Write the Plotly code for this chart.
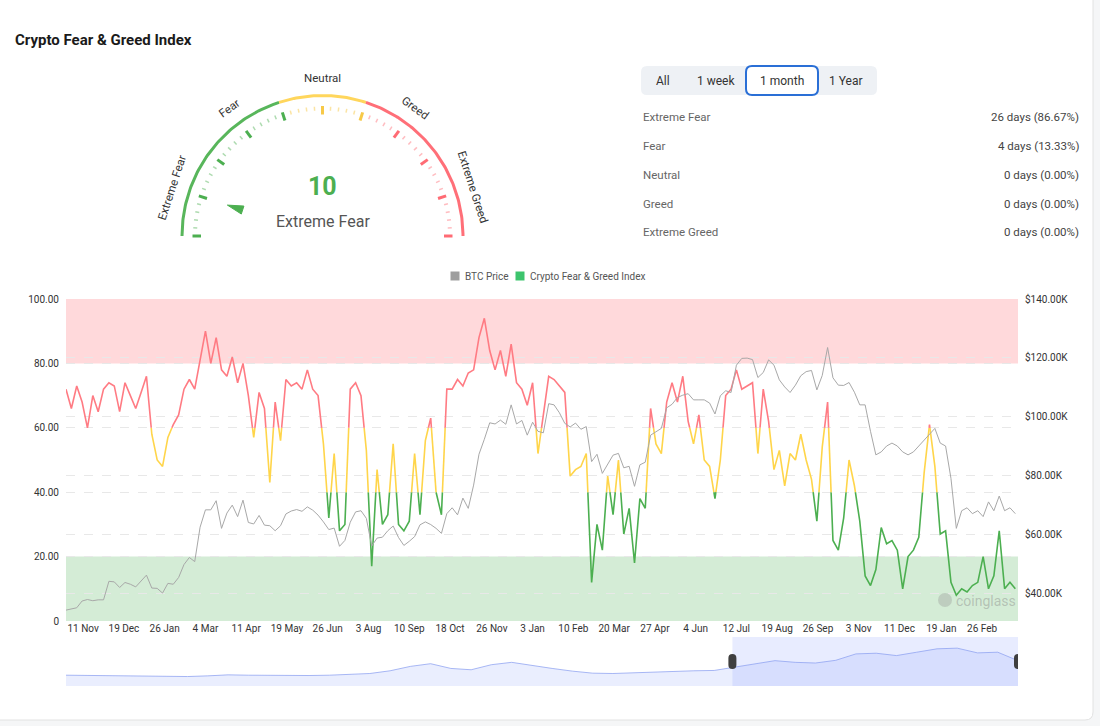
import math
import datetime as dt
import plotly.graph_objects as go

# ---------------- data ----------------
START_DATE = dt.datetime(2023, 10, 26)
STEP_DAYS = 5

# Crypto Fear & Greed index, one reading every 5 days from START_DATE
fng_index = [
    72, 66, 73, 68, 60, 70, 65, 72, 74, 73, 65, 74, 70, 66, 71, 76, 58, 50, 48, 57,
    61, 64, 72, 75, 72, 81, 90, 80, 88, 78,
    76, 82, 74, 80, 70, 57, 71, 66, 43, 68, 56, 75, 73, 74, 72, 78, 72, 70, 55, 32,
    52, 28, 30, 72, 74, 70, 53, 17, 47,
    30, 33, 55, 30, 28, 31, 52, 33, 56, 63, 40, 33, 72, 72, 75, 73, 77, 78, 88, 94,
    84, 78, 84, 76, 86, 74, 72, 67, 74,
    52, 64, 76, 75, 73, 71, 45, 47, 48, 52, 12, 30, 22, 45, 33, 50, 27, 35, 18, 38,
    35, 66, 55, 52, 68, 74, 68, 76, 62, 55,
    64, 50, 48, 38, 50, 70, 72, 78, 72, 73, 74, 52, 72, 62, 47, 53, 42, 52, 50, 58,
    50, 44, 31, 54, 68, 25, 22, 32, 50, 42,
    31, 14, 11, 16, 29, 24, 25, 22, 10, 20, 22, 26, 46, 61, 48, 27, 28, 12, 8, 10,
    9, 11, 12, 20, 10, 14, 28, 10, 12, 10,
]

# BTC price (thousand USD), same dates
btc_price_k = [
    34.2, 34.6, 35.0, 37.3, 37.8, 37.4, 37.7, 37.7, 44.0, 43.8, 41.9, 43.6, 43.0, 42.1, 44.2,
    46.1, 41.7, 41.6, 40.0, 43.3, 43.0, 45.3, 49.7, 52.1, 50.7, 62.4, 68.3, 68.3, 71.4, 62.0,
    67.2, 69.9, 66.0, 71.6, 64.0, 63.5, 66.4, 63.1, 62.9, 61.2, 62.9, 66.9, 67.9, 68.4, 67.8,
    69.3, 68.2, 66.5, 64.2, 61.6, 62.1, 55.9, 57.9, 64.1, 67.6, 68.0, 65.4, 56.0, 58.7,
    59.0, 61.2, 62.8, 58.9, 56.2, 57.6, 59.2, 63.2, 64.2, 63.3, 62.0, 60.3, 67.0, 69.0, 66.6,
    72.3, 68.8, 76.7, 87.2, 92.3, 97.9, 97.5, 98.8, 97.4, 104.0, 97.5, 98.7, 93.7, 98.1,
    95.0, 94.5, 104.4, 104.0, 101.3, 97.7, 96.5, 97.8, 95.7, 96.6, 84.7, 87.2, 80.7, 84.0, 86.9,
    87.5, 82.6, 83.1, 76.3, 83.6, 84.5, 93.7, 95.0, 96.0, 103.0, 104.2, 106.5, 107.3, 107.8, 105.7,
    105.7, 105.7, 104.6, 100.9, 107.1, 108.8, 108.2, 117.5, 119.8, 119.9, 119.4, 113.3, 115.0, 119.3, 117.5,
    112.5, 110.1, 108.2, 110.7, 113.9, 115.3, 115.7, 109.1, 114.0, 123.5, 113.2, 110.7, 110.6, 111.6, 108.3,
    104.0, 104.0, 95.0, 87.0, 88.0, 90.0, 91.0, 90.0, 88.0, 87.0, 88.0, 90.0, 92.0, 94.0, 96.0,
    91.0, 90.0, 79.0, 62.0, 68.0, 69.0, 67.0, 68.0, 66.0, 71.0, 68.0, 73.0, 68.0, 69.0, 67.0,
]

tick_dates = [
    "2023-11-11", "2023-12-19", "2024-01-26", "2024-03-04", "2024-04-11", "2024-05-19",
    "2024-06-26", "2024-08-03", "2024-09-10", "2024-10-18", "2024-11-26", "2025-01-03",
    "2025-02-10", "2025-03-20", "2025-04-27", "2025-06-04", "2025-07-12", "2025-08-19",
    "2025-09-26", "2025-11-03", "2025-12-11", "2026-01-19", "2026-02-26",
]
x_range_dates = ["2023-10-26", "2026-03-31 12:00"]

left_ticks = [0, 20, 40, 60, 80, 100]
right_ticks_k = [40, 60, 80, 100, 120, 140]
price_range_k = [30.5, 140]

# navigator (data zoom) shadow, evenly spaced
nav_shadow = [32, 31, 30, 30, 28, 27, 28, 30, 33, 32, 31, 30, 31, 32, 34, 37, 45, 58, 66, 52,
              48, 63, 70, 60, 52, 44, 38, 37, 39, 42, 45, 45, 46, 55, 65, 75, 70, 68, 76, 95,
              97, 90, 100, 110, 112, 98, 100, 75]
nav_window = [0.70, 1.0]

gauge_value = 10
gauge_label = "Extreme Fear"
gauge_zone_labels = ["Extreme Fear", "Fear", "Neutral", "Greed", "Extreme Greed"]

stat_labels = ["Extreme Fear", "Fear", "Neutral", "Greed", "Extreme Greed"]
stat_days = [26, 4, 0, 0, 0]

range_buttons = ["All", "1 week", "1 month", "1 Year"]
selected_range = "1 month"

# ---------------- styling ----------------
FONT = "Roboto, 'Noto Sans', sans-serif"
W, H = 1100, 726
RED, YEL, GRN = "#ff7b83", "#ffd54a", "#4caf50"
ZONE_COL = {"red": RED, "yellow": YEL, "green": GRN}

dates = [START_DATE + dt.timedelta(days=STEP_DAYS * i) for i in range(len(fng_index))]


def zone_of(v):
    return "green" if v < 40 else ("yellow" if v < 60 else "red")


def split_zones(vals):
    out = {k: ([], []) for k in ZONE_COL}
    last = {k: None for k in ZONE_COL}
    for i in range(len(vals) - 1):
        d0, d1 = i * STEP_DAYS, (i + 1) * STEP_DAYS
        v0, v1 = vals[i], vals[i + 1]
        pts = [(d0, v0)]
        bounds = [40, 60] if v1 >= v0 else [60, 40]
        for b in bounds:
            if (v0 - b) * (v1 - b) < 0:
                t = (b - v0) / (v1 - v0)
                pts.append((d0 + t * (d1 - d0), b))
        pts.append((d1, v1))
        for a, b in zip(pts[:-1], pts[1:]):
            z = zone_of((a[1] + b[1]) / 2)
            xs, ys = out[z]
            if last[z] != a:
                if xs:
                    xs.append(None)
                    ys.append(None)
                xs.append(START_DATE + dt.timedelta(days=a[0]))
                ys.append(a[1])
            xs.append(START_DATE + dt.timedelta(days=b[0]))
            ys.append(b[1])
            last[z] = b
    return out


fig = go.Figure()

# BTC price line
fig.add_trace(go.Scatter(
    x=dates, y=[p * 1000 for p in btc_price_k], yaxis="y2", mode="lines",
    line=dict(color="#a8a8a8", width=1), name="BTC Price", showlegend=False,
    hoverinfo="skip"))

# Fear & Greed line, coloured by zone
segs = split_zones(fng_index)
for z in ["green", "yellow", "red"]:
    xs, ys = segs[z]
    fig.add_trace(go.Scatter(
        x=xs, y=ys, mode="lines", line=dict(color=ZONE_COL[z], width=1.6),
        showlegend=False, hoverinfo="skip", connectgaps=False))

# navigator
n = len(nav_shadow)
fig.add_trace(go.Scatter(
    x=[i / (n - 1) for i in range(n)], y=nav_shadow, xaxis="x2", yaxis="y3",
    mode="lines", fill="tozeroy", fillcolor="rgba(150,170,250,0.20)",
    line=dict(color="rgba(140,160,240,0.75)", width=1), showlegend=False, hoverinfo="skip"))

# ---------------- gauge (pixel-space overlay axes x3 / y4) ----------------
CX, CY, R = 322.5, 236.0, 140.5


def ang(v):
    return math.pi * (1 - v / 100.0)


def P(r, th):
    return CX + r * math.cos(th), CY - r * math.sin(th)


arc_parts = [(0, 40, "#58b65b"), (40, 60, "#ffd65c"), (60, 100, "#ff6f78")]
for a, b, col in arc_parts:
    steps = int((b - a) * 2) + 1
    pts = [P(R, ang(a + (b - a) * k / (steps - 1))) for k in range(steps)]
    fig.add_trace(go.Scatter(
        x=[p[0] for p in pts], y=[p[1] for p in pts], xaxis="x3", yaxis="y4",
        mode="lines", line=dict(color=col, width=3), showlegend=False, hoverinfo="skip"))

tick_groups = {}
for v in range(0, 101, 2):
    major = v % 10 == 0
    z = "green" if v <= 40 else ("yellow" if v <= 60 else "red")
    r0, r1 = (121.5, 130.0) if major else (125.5, 129.5)
    th = ang(v)
    p0, p1 = P(r0, th), P(r1, th)
    xs, ys = tick_groups.setdefault((z, major), ([], []))
    xs += [p0[0], p1[0], None]
    ys += [p0[1], p1[1], None]
tick_cols = {
    ("green", True): "#4caf50", ("green", False): "rgba(76,175,80,0.45)",
    ("yellow", True): "#f7c948", ("yellow", False): "rgba(247,201,72,0.5)",
    ("red", True): "#ff6b74", ("red", False): "rgba(255,107,116,0.45)",
}
for key, (xs, ys) in tick_groups.items():
    fig.add_trace(go.Scatter(
        x=xs, y=ys, xaxis="x3", yaxis="y4", mode="lines",
        line=dict(color=tick_cols[key], width=3 if key[1] else 1.5),
        showlegend=False, hoverinfo="skip"))

# pointer
th = ang(gauge_value)
tip = P(100, th)
base = P(84, th)
perp = (math.sin(th), math.cos(th))
tri = [tip, (base[0] + 4.2 * perp[0], base[1] + 4.2 * perp[1]),
       (base[0] - 4.2 * perp[0], base[1] - 4.2 * perp[1]), tip]
ptr_col = GRN if gauge_value < 40 else (YEL if gauge_value < 60 else RED)
fig.add_trace(go.Scatter(
    x=[p[0] for p in tri], y=[p[1] for p in tri], xaxis="x3", yaxis="y4",
    mode="lines", fill="toself", fillcolor=ptr_col, line=dict(color=ptr_col, width=1),
    showlegend=False, hoverinfo="skip"))

# legend squares (manual legend)
fig.add_trace(go.Scatter(
    x=[455, 520], y=[276, 276], xaxis="x3", yaxis="y4", mode="markers",
    marker=dict(symbol="square", size=9, color=["#9e9e9e", "#3dc46d"]),
    showlegend=False, hoverinfo="skip"))

# watermark logo blob
fig.add_trace(go.Scatter(
    x=[945], y=[600], xaxis="x3", yaxis="y4", mode="markers",
    marker=dict(symbol="circle", size=14, color="rgba(150,150,150,0.35)"),
    showlegend=False, hoverinfo="skip"))

# ---------------- annotations ----------------
ann = []


def A(text, x, y, size, color, xanchor="center", angle=0, bold=False):
    ann.append(dict(
        text=f"<b>{text}</b>" if bold else text, x=x, y=y, xref="x3", yref="y4",
        showarrow=False, xanchor=xanchor, yanchor="middle", textangle=angle,
        font=dict(size=size, color=color, family=FONT)))


A("Crypto Fear & Greed Index", 13, 40, 15, "#1a1a1a", xanchor="left", bold=True)

for i, lab in enumerate(gauge_zone_labels):
    v = 10 + 20 * i
    t = ang(v)
    p = P(158, t)
    A(lab, p[0], p[1], 11.5, "#333333", angle=90 - math.degrees(t))

A(str(gauge_value), CX, 186, 25, ptr_col, bold=True)
A(gauge_label, CX, 221, 16, "#555555")

btn_x = [663, 716, 782, 846]
for lab, bx in zip(range_buttons, btn_x):
    A(lab, bx, 81, 12, "#333333")

total_days = sum(stat_days)
row_y = [117, 146, 175, 204, 232]
for lab, d, ry in zip(stat_labels, stat_days, row_y):
    A(lab, 641, ry, 11.5, "#666666", xanchor="left")
    A(f"{d} days ({d / total_days * 100:.2f}%)", 1081, ry, 11.5, "#444444", xanchor="right")

A("BTC Price", 463, 276, 10, "#555555", xanchor="left")
A("Crypto Fear & Greed Index", 528, 276, 10, "#555555", xanchor="left")
A("coinglass", 954, 601, 14, "rgba(140,140,140,0.45)", xanchor="left")

# ---------------- shapes ----------------


def px(x):
    return x / W


def py(y):
    return 1 - y / H


def rounded(x0, y0, x1, y1, r):
    # path in paper coordinates from pixel box
    return (f"M {px(x0 + r)},{py(y0)} L {px(x1 - r)},{py(y0)} Q {px(x1)},{py(y0)} {px(x1)},{py(y0 + r)} "
            f"L {px(x1)},{py(y1 - r)} Q {px(x1)},{py(y1)} {px(x1 - r)},{py(y1)} "
            f"L {px(x0 + r)},{py(y1)} Q {px(x0)},{py(y1)} {px(x0)},{py(y1 - r)} "
            f"L {px(x0)},{py(y0 + r)} Q {px(x0)},{py(y0)} {px(x0 + r)},{py(y0)} Z")


shapes = [
    # card
    dict(type="path", path=rounded(-8, -8, 1093, 720, 8), xref="paper", yref="paper",
         fillcolor="white", line=dict(color="#e2e2e2", width=1), layer="below"),
    # button group
    dict(type="path", path=rounded(641, 66, 877, 95, 6), xref="paper", yref="paper",
         fillcolor="#eef1f5", line=dict(width=0), layer="below"),
    dict(type="path", path=rounded(746, 66, 818, 95, 6), xref="paper", yref="paper",
         fillcolor="white", line=dict(color="#2a6fd6", width=2), layer="below"),
    # zone bands
    dict(type="rect", xref="x domain", yref="y", x0=0, x1=1, y0=80, y1=100,
         fillcolor="rgba(255,90,100,0.23)", line=dict(width=0), layer="below"),
    dict(type="rect", xref="x domain", yref="y", x0=0, x1=1, y0=0, y1=20,
         fillcolor="rgba(60,170,70,0.22)", line=dict(width=0), layer="below"),
    # navigator selection
    dict(type="rect", xref="x2", yref="y3 domain", x0=nav_window[0], x1=nav_window[1], y0=0, y1=1,
         fillcolor="rgba(120,145,255,0.17)", line=dict(width=0), layer="below"),
]
pill = ("M -4,-3.5 L -4,3.5 Q -4,7.5 0,7.5 Q 4,7.5 4,3.5 L 4,-3.5 "
        "Q 4,-7.5 0,-7.5 Q -4,-7.5 -4,-3.5 Z")
for hx in nav_window:
    shapes.append(dict(type="path", path=pill, xref="x2", yref="y3",
                       xsizemode="pixel", ysizemode="pixel", xanchor=hx, yanchor=72.5,
                       fillcolor="#3f3f3f", line=dict(width=0), layer="above"))

# ---------------- layout ----------------
main_dom_x = [66 / W, 1018 / W]
fig.update_layout(
    width=W, height=H, autosize=False,
    margin=dict(l=0, r=0, t=0, b=0, pad=0, autoexpand=False),
    paper_bgcolor="#f5f6f7", plot_bgcolor="rgba(0,0,0,0)",
    font=dict(family=FONT, color="#333333"),
    showlegend=False,
    xaxis=dict(domain=main_dom_x, type="date", range=x_range_dates,
               tickvals=tick_dates, tickformat="%-d %b", tickfont=dict(size=10, color="#333"),
               showgrid=False, zeroline=False, showline=False, ticks="", anchor="y",
               fixedrange=True, automargin=False),
    yaxis=dict(domain=[1 - 621 / H, 1 - 299 / H], range=[0, 100],
               tickvals=left_ticks,
               ticktext=[("0" if t == 0 else f"{t:.2f}") for t in left_ticks],
               tickfont=dict(size=10, color="#333"), showgrid=True, gridcolor="#e8e8e8",
               griddash="dash", zeroline=False, ticks="", ticklabelstandoff=6,
               fixedrange=True, automargin=False),
    yaxis2=dict(overlaying="y", side="right", range=[v * 1000 for v in price_range_k],
                tickvals=[t * 1000 for t in right_ticks_k],
                ticktext=[f"${t:.2f}K" for t in right_ticks_k],
                tickfont=dict(size=10, color="#333"), showgrid=True, gridcolor="#e8e8e8",
                griddash="dash", zeroline=False, ticks="", ticklabelstandoff=6,
                fixedrange=True, automargin=False),
    xaxis2=dict(domain=main_dom_x, range=[0, 1], visible=False, anchor="y3",
                fixedrange=True, automargin=False),
    yaxis3=dict(domain=[1 - 686 / H, 1 - 637 / H], range=[0, 145], visible=False,
                anchor="x2", fixedrange=True, automargin=False),
    xaxis3=dict(domain=[0, 1], range=[0, W], visible=False, anchor="y4",
                fixedrange=True, automargin=False),
    yaxis4=dict(domain=[0, 1], range=[H, 0], visible=False, anchor="x3",
                fixedrange=True, automargin=False),
    annotations=ann,
    shapes=shapes,
)

fig.write_html("out.html")
